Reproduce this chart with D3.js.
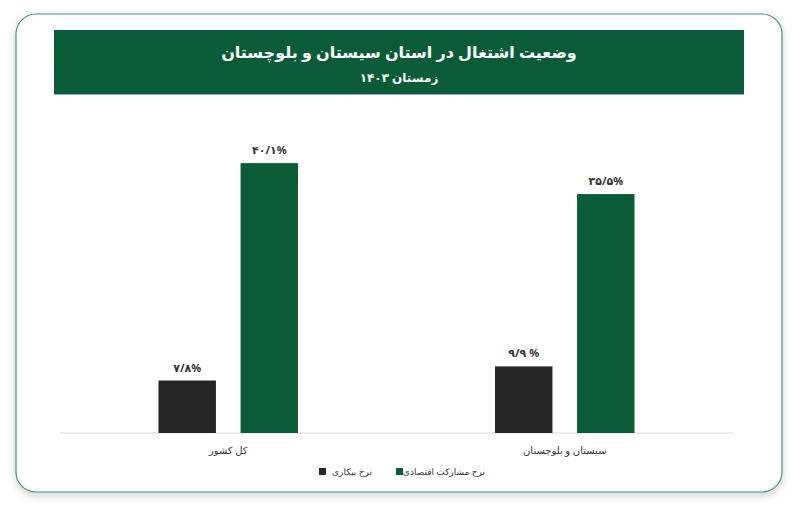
<!DOCTYPE html>
<html><head><meta charset="utf-8">
<script src="https://cdn.jsdelivr.net/npm/d3@7"></script>
<style>body{margin:0;background:#fff;font-family:"Noto Sans","DejaVu Sans",sans-serif;}</style>
</head><body><svg id="chart" width="800" height="527"></svg>
<script>
const categories = ["کل کشور", "سیستان و بلوچستان"];
const seriesNames = ["نرخ بیکاری", "نرخ مشارکت اقتصادی"];
const unemployment = [7.8, 9.9];
const participation = [40.1, 35.5];
const labels = [["۷/۸%", "۴۰/۱%"], ["۹/۹ %", "۳۵/۵%"]];
const colors = ["#262626", "#0a5c36"];

const svg = d3.select("#chart");
const defs = svg.append("defs");
const f = defs.append("filter").attr("id", "sh").attr("x", "-5%").attr("y", "-5%").attr("width", "110%").attr("height", "115%");
f.append("feDropShadow").attr("dx", 0).attr("dy", 3).attr("stdDeviation", 4).attr("flood-color", "#000").attr("flood-opacity", 0.18);

svg.append("rect").attr("x", 16).attr("y", 14).attr("width", 766).attr("height", 478)
    .attr("rx", 20).attr("fill", "#fff").attr("stroke", "#3f9a6a").attr("stroke-width", 1.2)
    .attr("filter", "url(#sh)");

svg.append("rect").attr("x", 54).attr("y", 30).attr("width", 690).attr("height", 64).attr("fill", "#0a5c36");
svg.append("line").attr("x1", 54).attr("x2", 744).attr("y1", 94).attr("y2", 94).attr("stroke", "#2a4a8a").attr("stroke-width", 1);
svg.append("text").attr("x", 399).attr("y", 58).attr("text-anchor", "middle").attr("fill", "#fff")
    .attr("font-size", 16).attr("font-weight", "bold").attr("direction", "rtl").text("وضعیت اشتغال در استان سیستان و بلوچستان");
svg.append("text").attr("x", 399).attr("y", 82).attr("text-anchor", "middle").attr("fill", "#fff")
    .attr("font-size", 12).attr("font-weight", "bold").attr("direction", "rtl").text("زمستان ۱۴۰۳");

const margin = { left: 60, right: 733, top: 110, bottom: 433 };
const x0 = d3.scaleBand().domain(categories).range([margin.left, margin.right]).paddingInner(0).paddingOuter(0);
const x1 = d3.scaleBand().domain([0, 1]).range([0, x0.bandwidth()]).paddingInner(0.3).paddingOuter(1.2);
const y = d3.scaleLinear().domain([0, 48]).range([margin.bottom, margin.bottom - 48 * 6.73]);

const data = categories.map((c, i) => ({ c, i, vals: [unemployment[i], participation[i]] }));
const g = svg.append("g");
g.append("line").attr("x1", margin.left).attr("x2", margin.right).attr("y1", margin.bottom).attr("y2", margin.bottom)
    .attr("stroke", "#d9d9d9");
const grp = g.selectAll(".grp").data(data).enter().append("g").attr("transform", d => `translate(${x0(d.c)},0)`);
grp.selectAll("rect").data(d => d.vals.map((v, k) => ({ v, k, i: d.i }))).enter().append("rect")
    .attr("x", d => x1(d.k)).attr("width", x1.bandwidth())
    .attr("y", d => y(d.v)).attr("height", d => y(0) - y(d.v)).attr("fill", d => colors[d.k]);
grp.selectAll(".lbl").data(d => d.vals.map((v, k) => ({ v, k, i: d.i }))).enter().append("text")
    .attr("x", d => x1(d.k) + x1.bandwidth() / 2).attr("y", d => y(d.v) - 9)
    .attr("text-anchor", "middle").attr("font-size", 11).attr("font-weight", "bold").attr("fill", "#333")
    .text(d => labels[d.i][d.k]);
grp.append("text").attr("x", x0.bandwidth() / 2).attr("y", 454).attr("text-anchor", "middle")
    .attr("font-size", 10).attr("fill", "#333").attr("direction", "rtl").text(d => d.c);

const legend = svg.append("g");
const items = [{ k: 0, sx: 319, tx: 372 }, { k: 1, sx: 396, tx: 485 }];
items.forEach(it => {
    legend.append("rect").attr("x", it.sx).attr("y", 468).attr("width", 7).attr("height", 7).attr("fill", colors[it.k]);
    legend.append("text").attr("x", it.tx).attr("y", 475).attr("text-anchor", "end").attr("font-size", 9)
        .attr("fill", "#333").attr("direction", "ltr").text(seriesNames[it.k]);
});
</script></body></html>
